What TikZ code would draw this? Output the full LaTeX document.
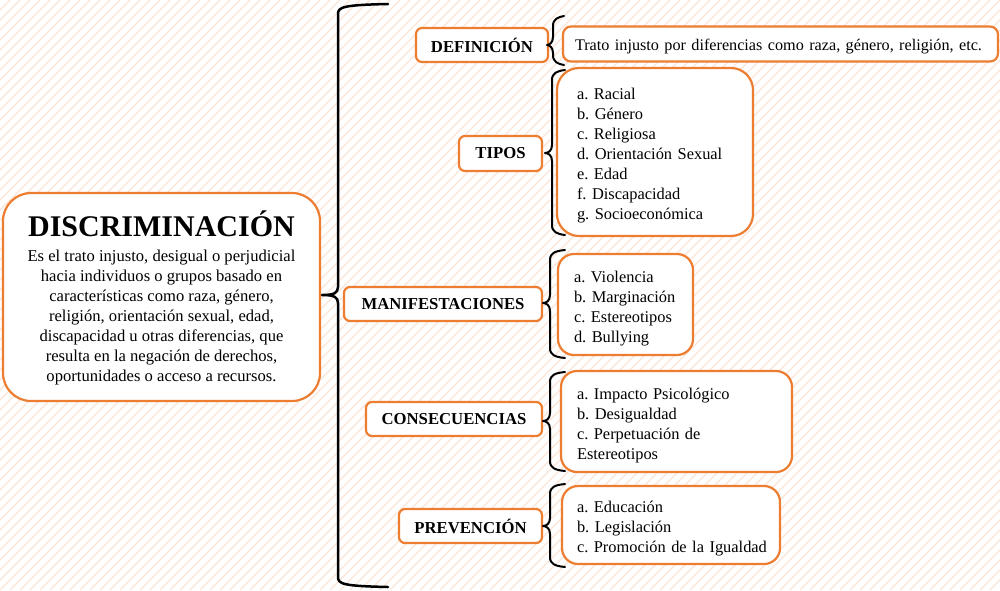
\documentclass[tikz,border=0pt]{standalone}
\usepackage{fontspec}
\setmainfont{Liberation Serif}
\definecolor{orng}{RGB}{237,125,49}
\definecolor{brick}{RGB}{251,229,216}
\newcommand{\mybrace}[7][]{%
  \draw[bracestyle,#1] (#7,#3) .. controls (#2+5,#3+1) and (#2,#3+3) .. (#2,#3+10)
    -- (#2,#5-8) .. controls (#2,#5-2) and (#2-4,#5) .. (#6,#5)
    .. controls (#2-4,#5) and (#2,#5+2) .. (#2,#5+8)
    -- (#2,#4-10) .. controls (#2,#4-3) and (#2+5,#4-1) .. (#7,#4);}
\newcommand{\tstrut}{\rule{0pt}{19pt}}
\frenchspacing
\begin{document}
\begin{tikzpicture}[x=1pt,y=-1pt,
  box/.style={draw=orng, line width=2.2pt, fill=white, inner sep=0pt},
  labelbox/.style={box, rounded corners=6pt, font=\fontsize{16.7}{20}\selectfont\bfseries},
  listbox/.style={box, align=left, font=\fontsize{16.4}{20}\selectfont},
  bracestyle/.style={draw=black, line width=2pt, line cap=round, line join=round}]
\useasboundingbox (0,0) rectangle (1000,590);
\fill[white] (0,0) rectangle (1000,590);
\begin{scope}
\clip (0,0) rectangle (1000,590);
\foreach \c in {-600,-590,...,1000} \draw[brick,line width=1.3pt] (\c,590) -- (\c+590,0);
\end{scope}

% main box
\node[box, rounded corners=28pt, minimum width=317pt, minimum height=208pt] (main) at (161.5,297) {};
\node[anchor=base, font=\fontsize{30}{32}\selectfont\bfseries] (title) at (161.5,236) {DISCRIMINACIÓN};
\node[align=center, font=\fontsize{16.6}{20}\selectfont] (desc) at (161.5,317) {Es el trato injusto, desigual o perjudicial\\hacia individuos o grupos basado en\\características como raza, género,\\religión, orientación sexual, edad,\\discapacidad u otras diferencias, que\\resulta en la negación de derechos,\\oportunidades o acceso a recursos.};

% big brace
\mybrace[line width=2.5pt]{338}{4}{587}{295}{322}{388}

% labels
\node[labelbox, minimum width=132pt, minimum height=34pt] (def) at (482,45) {DEFINICIÓN};
\node[labelbox, minimum width=83pt, minimum height=35pt] (tip) at (500.5,153.5) {TIPOS};
\node[labelbox, minimum width=198pt, minimum height=34pt] (man) at (443,304) {MANIFESTACIONES};
\node[labelbox, minimum width=176pt, minimum height=34pt] (con) at (454,419) {CONSECUENCIAS};
\node[labelbox, minimum width=143pt, minimum height=34pt] (pre) at (470.5,526) {PREVENCIÓN};

% small braces
\mybrace{553}{16}{65}{45}{547}{564}
\mybrace{552}{70}{235}{153}{545}{565}
\mybrace{550}{250}{358}{303}{543}{565}
\mybrace{550}{372}{471}{421}{543}{565}
\mybrace{550}{484}{567}{526}{543}{565}

% content boxes
\node[listbox, font=\fontsize{16.2}{20}\selectfont, rounded corners=8pt, inner xsep=12pt, text width=411pt, minimum height=35pt] (defc) at (780.5,44) {\mbox{\rule{0pt}{15.5pt}Trato injusto por diferencias como raza, género, religión, etc.}};
\node[listbox, rounded corners=22pt, inner xsep=20pt, text width=156pt, minimum height=168pt] (tipc) at (655,152) {\mbox{\tstrut a. Racial}\\\mbox{b. Género}\\\mbox{c. Religiosa}\\\mbox{d. Orientación Sexual}\\\mbox{e. Edad}\\\mbox{f. Discapacidad}\\\mbox{g. Socioeconómica}};
\node[listbox, rounded corners=16pt, inner xsep=16pt, text width=103pt, minimum height=101pt] (manc) at (625.5,304.5) {\mbox{\tstrut a. Violencia}\\\mbox{b. Marginación}\\\mbox{c. Estereotipos}\\\mbox{d. Bullying}};
\node[listbox, rounded corners=16pt, inner xsep=16pt, text width=199pt, minimum height=101pt] (conc) at (676.5,421.5) {\mbox{\tstrut a. Impacto Psicológico}\\\mbox{b. Desigualdad}\\\mbox{c. Perpetuación de}\\\mbox{Estereotipos}};
\node[listbox, rounded corners=16pt, inner xsep=15pt, text width=188pt, minimum height=78pt] (prec) at (671,525) {\mbox{\tstrut a. Educación}\\\mbox{b. Legislación}\\\mbox{c. Promoción de la Igualdad}};
\end{tikzpicture}
\end{document}
